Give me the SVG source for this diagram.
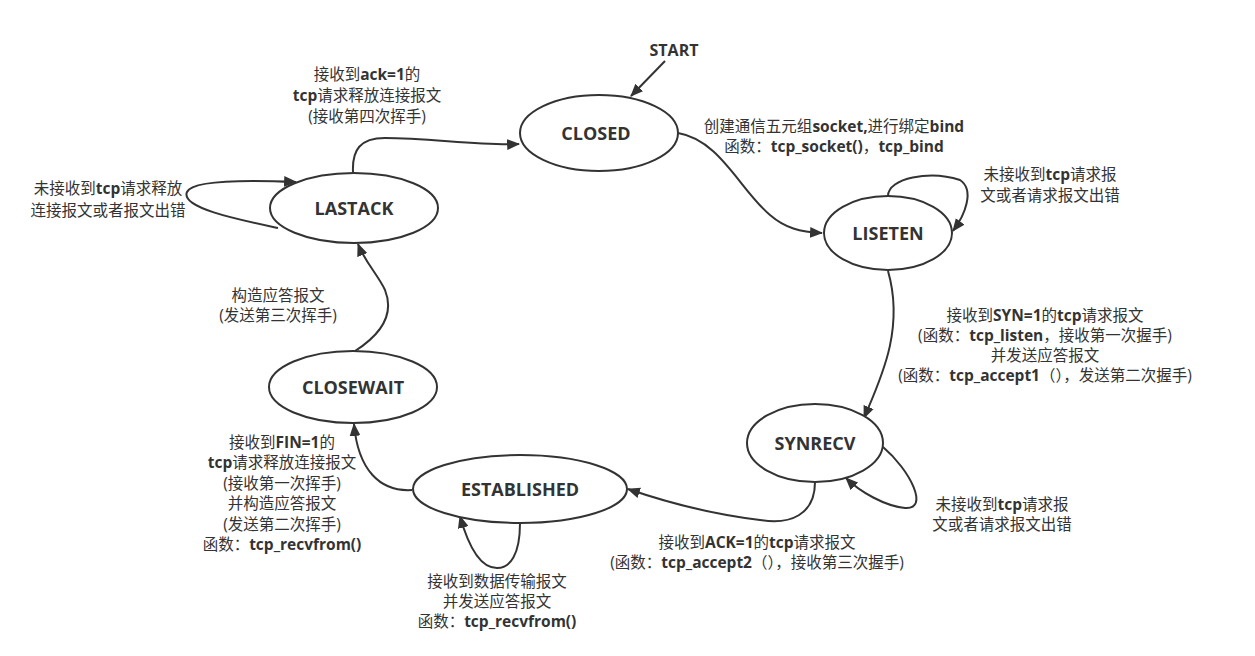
<svg xmlns="http://www.w3.org/2000/svg" width="1255" height="656" viewBox="0 0 1255 656">
<style>
.node ellipse{fill:#fff;stroke:#333;stroke-width:2}
.node text{font-family:"Open Sans","Noto Sans CJK SC",sans-serif;font-weight:bold;font-size:18px;fill:#333;text-anchor:middle;dominant-baseline:central}
.edge{fill:none;stroke:#333;stroke-width:2;marker-end:url(#arr)}
.lbl{font-family:"Open Sans","Noto Sans CJK SC",sans-serif;font-weight:normal;font-size:15.5px;fill:#333;text-anchor:middle}
.b{font-weight:bold}
</style>
<defs>
<marker id="arr" viewBox="0 0 12 10" refX="11" refY="5" markerWidth="13" markerHeight="11" markerUnits="userSpaceOnUse" orient="auto">
<path d="M0,0 L12,5 L0,10 Z" fill="#333"/>
</marker>
</defs>
<rect width="1255" height="656" fill="#fff"/>
<g id="connectors">
<path class="edge" d="M665,61 L631,96"/>
<path class="edge" d="M678,133 C720,140 740,190 770,215 C785,228 800,232 822,233"/>
<path class="edge" d="M888,196 C888,178 930,170 960,180 C975,190 965,215 953,231"/>
<path class="edge" d="M888,271 C905,330 880,380 864,418"/>
<path class="edge" d="M883,447 C910,470 930,510 905,508 C885,506 860,492 846,478"/>
<path class="edge" d="M815,482 C815,515 790,525 760,520 C710,514 660,500 628,489"/>
<path class="edge" d="M520,523 C520,555 510,568 497,568 C480,568 468,545 460,516"/>
<path class="edge" d="M412,490 C380,492 358,470 354,424"/>
<path class="edge" d="M355,351 C380,335 395,315 385,290 C378,275 365,262 358,244"/>
<path class="edge" d="M278,228 C240,220 180,208 187,192 C192,180 250,180 296,182"/>
<path class="edge" d="M353,172 C352,150 360,138 385,138 C430,138 480,146 519,144"/>
</g>
<g id="labels">
<text class="lbl b" x="674" y="56" style="font-size:16px">START</text>
<text class="lbl" x="834" y="132">创建通信五元组<tspan class="b">socket,</tspan>进行绑定<tspan class="b">bind</tspan></text>
<text class="lbl" x="834" y="152">函数：<tspan class="b">tcp_socket()</tspan>，<tspan class="b">tcp_bind</tspan></text>
<text class="lbl" x="1050" y="180">未接收到<tspan class="b">tcp</tspan>请求报</text>
<text class="lbl" x="1050" y="201">文或者请求报文出错</text>
<text class="lbl" x="1045" y="321">接收到<tspan class="b">SYN=1</tspan>的<tspan class="b">tcp</tspan>请求报文</text>
<text class="lbl" x="1045" y="341">(函数：<tspan class="b">tcp_listen</tspan>，接收第一次握手)</text>
<text class="lbl" x="1045" y="361">并发送应答报文</text>
<text class="lbl" x="1045" y="381">(函数：<tspan class="b">tcp_accept1</tspan>（），发送第二次握手)</text>
<text class="lbl" x="1002" y="510">未接收到<tspan class="b">tcp</tspan>请求报</text>
<text class="lbl" x="1002" y="530">文或者请求报文出错</text>
<text class="lbl" x="757" y="548">接收到<tspan class="b">ACK=1</tspan>的<tspan class="b">tcp</tspan>请求报文</text>
<text class="lbl" x="757" y="568">(函数：<tspan class="b">tcp_accept2</tspan>（），接收第三次握手)</text>
<text class="lbl" x="497" y="587">接收到数据传输报文</text>
<text class="lbl" x="497" y="607">并发送应答报文</text>
<text class="lbl" x="497" y="627">函数：<tspan class="b">tcp_recvfrom()</tspan></text>
<text class="lbl" x="282" y="448">接收到<tspan class="b">FIN=1</tspan>的</text>
<text class="lbl" x="282" y="468"><tspan class="b">tcp</tspan>请求释放连接报文</text>
<text class="lbl" x="282" y="489">(接收第一次挥手)</text>
<text class="lbl" x="282" y="509">并构造应答报文</text>
<text class="lbl" x="282" y="530">(发送第二次挥手)</text>
<text class="lbl" x="282" y="550">函数：<tspan class="b">tcp_recvfrom()</tspan></text>
<text class="lbl" x="278" y="301">构造应答报文</text>
<text class="lbl" x="278" y="321">(发送第三次挥手)</text>
<text class="lbl" x="108" y="194">未接收到<tspan class="b">tcp</tspan>请求释放</text>
<text class="lbl" x="108" y="216">连接报文或者报文出错</text>
<text class="lbl" x="367" y="80">接收到<tspan class="b">ack=1</tspan>的</text>
<text class="lbl" x="367" y="101"><tspan class="b">tcp</tspan>请求释放连接报文</text>
<text class="lbl" x="367" y="122">(接收第四次挥手)</text>
</g>
<g id="CLOSED" class="node"><ellipse cx="599" cy="133" rx="79" ry="38"/><text x="596" y="133">CLOSED</text></g>
<g id="LISETEN" class="node"><ellipse cx="888" cy="233" rx="64" ry="37"/><text x="888" y="233">LISETEN</text></g>
<g id="SYNRECV" class="node"><ellipse cx="815" cy="443" rx="68" ry="39"/><text x="815" y="443">SYNRECV</text></g>
<g id="ESTABLISHED" class="node"><ellipse cx="520" cy="489" rx="107" ry="34"/><text x="520" y="489">ESTABLISHED</text></g>
<g id="CLOSEWAIT" class="node"><ellipse cx="353" cy="387" rx="84" ry="36"/><text x="353" y="387">CLOSEWAIT</text></g>
<g id="LASTACK" class="node"><ellipse cx="354" cy="208" rx="84" ry="35"/><text x="354" y="208">LASTACK</text></g>
</svg>
